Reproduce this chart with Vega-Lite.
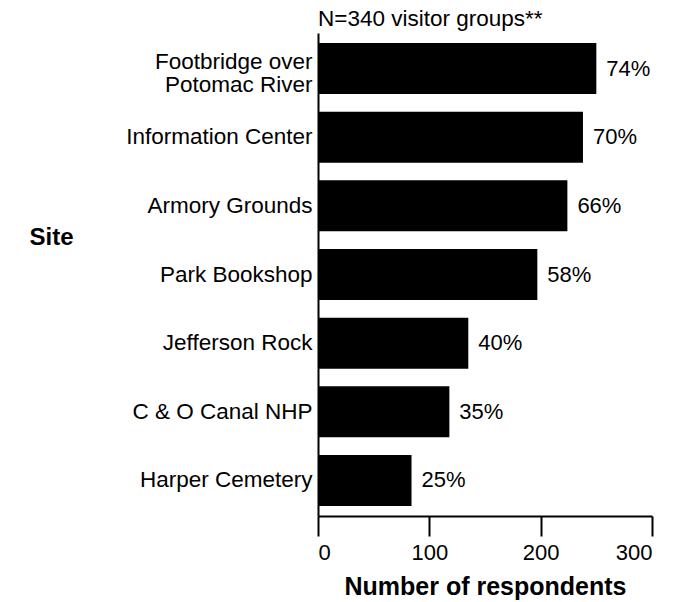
{
  "$schema": "https://vega.github.io/schema/vega-lite/v6.json",
  "width": 334,
  "height": 483,
  "autosize": {"type": "none"},
  "padding": {"left": 318, "top": 33, "right": 23, "bottom": 86},
  "background": "white",
  "config": {
    "font": "Liberation Sans",
    "view": {"stroke": null},
    "axis": {"grid": false, "domainColor": "black", "tickColor": "black", "labelColor": "black", "titleColor": "black"}
  },
  "title": {
    "text": "N=340 visitor groups**",
    "anchor": "start",
    "frame": "group",
    "fontSize": 22.5,
    "fontWeight": "normal",
    "baseline": "bottom",
    "offset": -20,
    "color": "black"
  },
  "data": {
    "values": [
      {"site": "Footbridge over Potomac River", "count": 250, "pct": "74%"},
      {"site": "Information Center", "count": 238, "pct": "70%"},
      {"site": "Armory Grounds", "count": 224, "pct": "66%"},
      {"site": "Park Bookshop", "count": 197, "pct": "58%"},
      {"site": "Jefferson Rock", "count": 135, "pct": "40%"},
      {"site": "C & O Canal NHP", "count": 118, "pct": "35%"},
      {"site": "Harper Cemetery", "count": 84, "pct": "25%"}
    ]
  },
  "encoding": {
    "y": {
      "field": "site",
      "type": "nominal",
      "sort": null,
      "scale": {"paddingInner": 0.257, "paddingOuter": 0.146},
      "axis": {
        "title": "Site",
        "titleAngle": 0,
        "titleX": -267,
        "titleY": 204,
        "titleAlign": "center",
        "titleBaseline": "middle",
        "titleFontSize": 24,
        "titleFontWeight": "bold",
        "ticks": false,
        "domainWidth": 2,
        "labelFontSize": 22.5,
        "labelPadding": 6,
        "labelLimit": 400,
        "labelLineHeight": 23,
        "labelOffset": {"condition": {"test": "datum.value == 'Footbridge over Potomac River'", "value": -6.5}, "value": 0},
        "labelExpr": "datum.value == 'Footbridge over Potomac River' ? ['Footbridge over', 'Potomac River'] : datum.value"
      }
    },
    "x": {
      "field": "count",
      "type": "quantitative",
      "scale": {"domain": [0, 300], "nice": false},
      "axis": {
        "title": "Number of respondents",
        "values": [0, 100, 200, 300],
        "tickSize": 20,
        "tickWidth": 2,
        "domainWidth": 2,
        "labelFontSize": 22,
        "labelPadding": 6,
        "titleFontSize": 25,
        "titleFontWeight": "bold",
        "titlePadding": 11
      }
    }
  },
  "layer": [
    {"mark": {"type": "bar", "color": "black"}},
    {
      "mark": {"type": "text", "align": "left", "baseline": "middle", "dx": 10, "fontSize": 22, "color": "black"},
      "encoding": {"text": {"field": "pct"}}
    }
  ]
}
